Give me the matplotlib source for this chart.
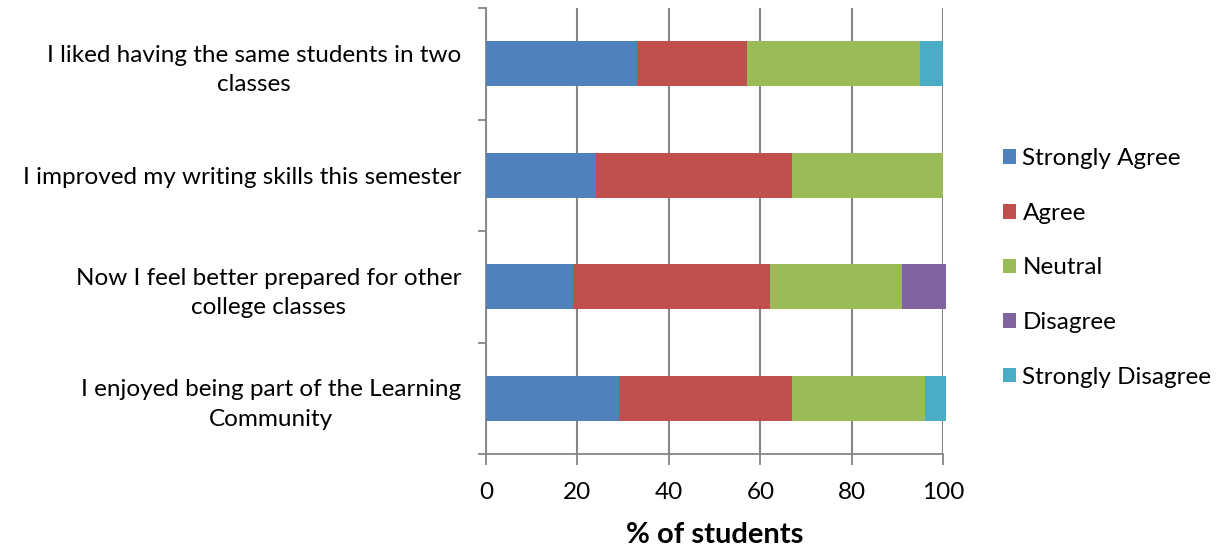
import matplotlib.pyplot as plt
import numpy as np

plt.rcParams['font.family'] = ['Lato', 'DejaVu Sans']

# Survey statements (top to bottom as shown)
statements = [
    "I liked having the same students in two\nclasses",
    "I improved my writing skills this semester",
    "Now I feel better prepared for other\ncollege classes",
    "I enjoyed being part of the Learning\nCommunity",
]
responses = ["Strongly Agree", "Agree", "Neutral", "Disagree", "Strongly Disagree"]

strongly_agree = [33, 24, 19, 29]
agree = [24, 43, 43, 38]
neutral = [38, 33, 29, 29]
disagree = [0, 0, 9.6, 0]
strongly_disagree = [5, 0, 0, 4.6]

colors = ['#4F81BD', '#C0504D', '#9BBB59', '#8064A2', '#4BACC6']

fig = plt.figure(figsize=(12.19, 5.48), dpi=100)
ax = fig.add_axes([0.3987, 0.1715, 0.3751, 0.8139])

y = np.arange(len(statements))
left = np.zeros(len(statements))
for name, vals, c in zip(responses,
                         [strongly_agree, agree, neutral, disagree, strongly_disagree],
                         colors):
    ax.barh(y, vals, left=left, height=0.4, color=c, label=name,
            edgecolor='none', clip_on=False, zorder=3)
    left += np.array(vals)

ax.set_xlim(0, 100)
ax.set_ylim(len(statements) - 0.5, -0.5)
ax.set_xticks(range(0, 101, 20))
ax.set_yticks(y)
ax.set_yticklabels(statements, fontsize=17.5, ha='right', multialignment='center',
                   linespacing=1.5)
ax.set_yticks(np.arange(-0.5, len(statements), 1), minor=True)
ax.tick_params(axis='y', which='major', length=0, pad=18)
ax.tick_params(axis='y', which='minor', length=6, color='#868686', width=1.3, direction='out')
ax.tick_params(axis='x', length=8, color='#868686', width=1.3, labelsize=17.5, pad=12)

ax.xaxis.grid(True, color='#868686', linewidth=1.5, zorder=0)
ax.set_axisbelow(True)
for s in ['top', 'right']:
    ax.spines[s].set_visible(False)
for s in ['left', 'bottom']:
    ax.spines[s].set_color('#868686')
    ax.spines[s].set_linewidth(1.3)

ax.set_xlabel('% of students', fontsize=21, fontweight='bold', labelpad=14)

fig.legend(loc='center left', bbox_to_anchor=(0.8228, 0.511), frameon=False,
           fontsize=17.5, handlelength=0.55, handleheight=0.55, labelspacing=1.38,
           handletextpad=0.25, borderpad=0, borderaxespad=0)

fig.savefig('out.png', dpi=100)
